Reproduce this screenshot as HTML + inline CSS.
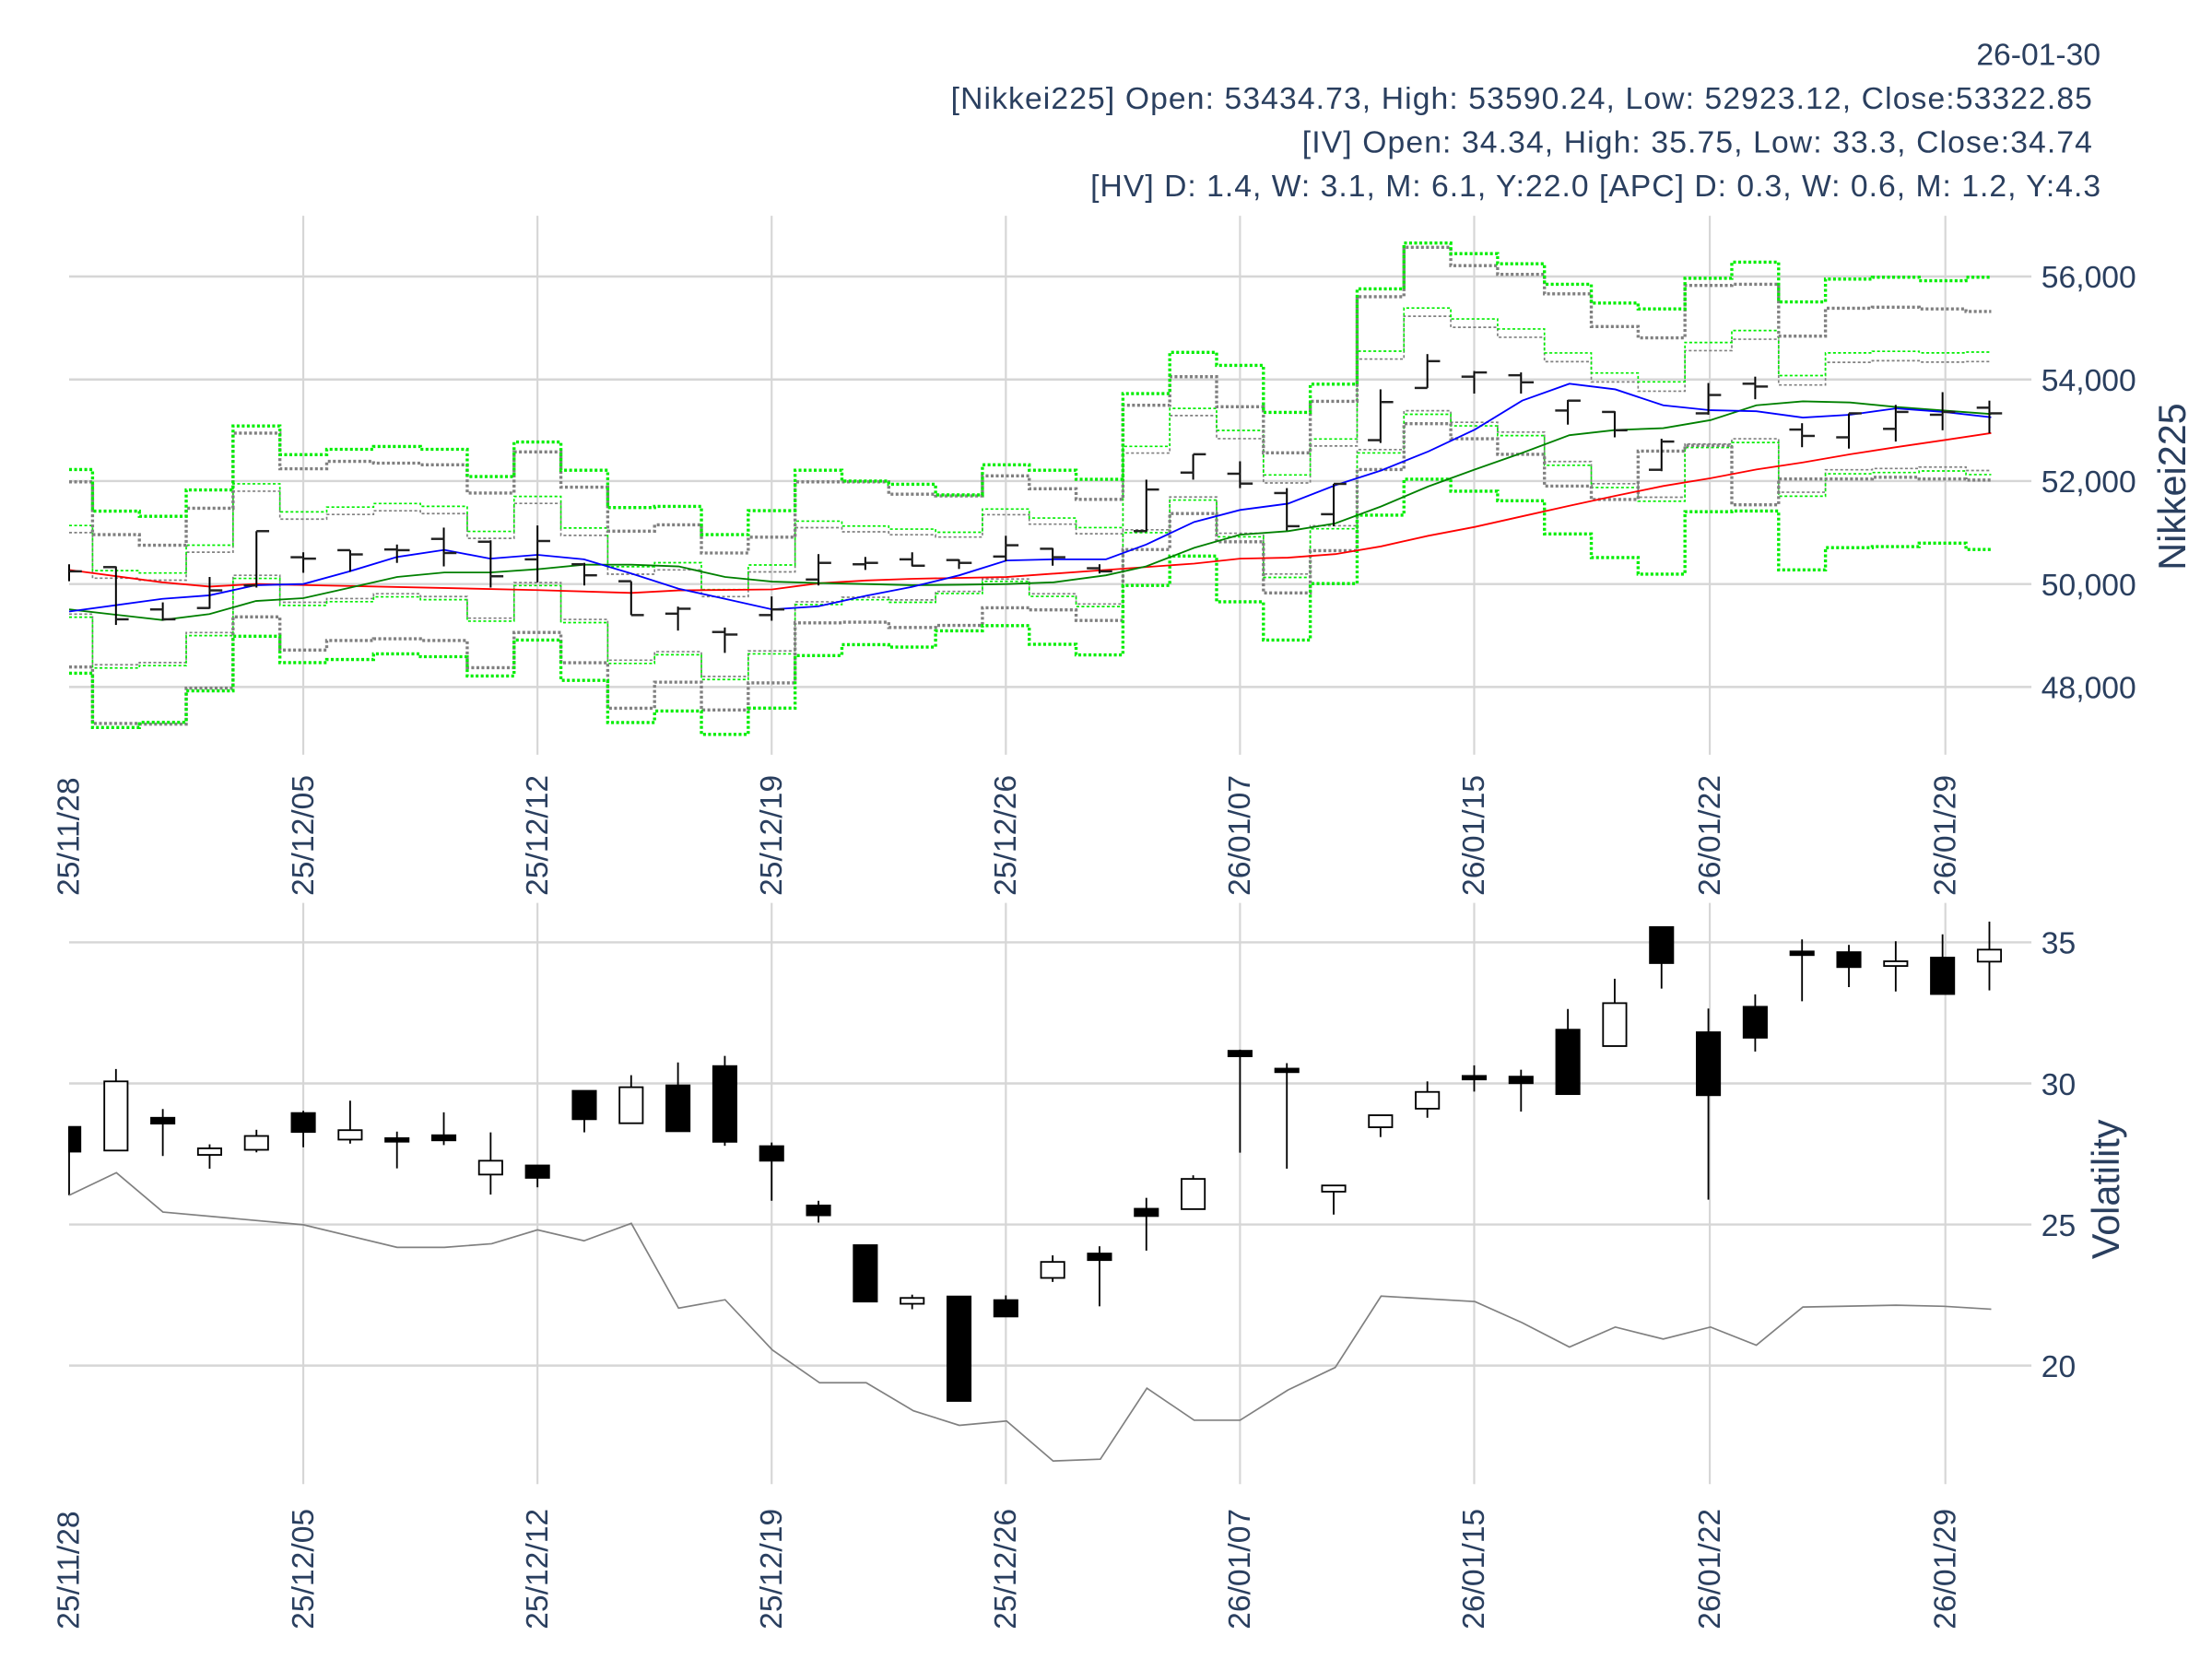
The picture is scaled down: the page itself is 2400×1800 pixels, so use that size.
<!DOCTYPE html>
<html><head><meta charset="utf-8"><style>html,body{margin:0;padding:0;background:#fff}svg{display:block}</style></head>
<body>
<svg id="s" xmlns="http://www.w3.org/2000/svg" width="2400" height="1800" viewBox="0 0 1568 1176" font-family="Liberation Sans, Arial, sans-serif" fill="#2a3f5f">
<rect width="1568" height="1176" fill="#fff"/>
<g id="grid"></g>
<g id="data"></g>
<g font-size="22" text-anchor="end">
<text x="1489" y="46">26-01-30</text>
<text x="1483" y="77" textLength="809">[Nikkei225] Open: 53434.73, High: 53590.24, Low: 52923.12, Close:53322.85</text>
<text x="1483" y="108" textLength="560">[IV] Open: 34.34, High: 35.75, Low: 33.3, Close:34.74</text>
<text x="1489" y="139" textLength="716">[HV] D: 1.4, W: 3.1, M: 6.1, Y:22.0 [APC] D: 0.3, W: 0.6, M: 1.2, Y:4.3</text>
</g>
<g font-size="22">
<text x="1447" y="204">56,000</text>
<text x="1447" y="277">54,000</text>
<text x="1447" y="349">52,000</text>
<text x="1447" y="422">50,000</text>
<text x="1447" y="495">48,000</text>
<text x="1447" y="676">35</text>
<text x="1447" y="776">30</text>
<text x="1447" y="876">25</text>
<text x="1447" y="976">20</text>
</g>
<text font-size="27" text-anchor="middle" transform="translate(1549,345) rotate(-90)">Nikkei225</text>
<text font-size="27" text-anchor="middle" transform="translate(1502,843) rotate(-90)">Volatility</text>
<g id="xl" font-size="22"></g>
</svg>
<script>
var NS="http://www.w3.org/2000/svg";
function el(p,t,a,txt){var e=document.createElementNS(NS,t);for(var k in a)e.setAttribute(k,a[k]);if(txt)e.textContent=txt;p.appendChild(e);return e;}
var G=document.getElementById('grid'),D=document.getElementById('data'),XL=document.getElementById('xl');
var gx=[49,215,381,547,713,879,1045,1212,1379];
var lab=["25/11/28","25/12/05","25/12/12","25/12/19","25/12/26","26/01/07","26/01/15","26/01/22","26/01/29"];
[196,269,341,414,487,668,768,868,968].forEach(function(y){el(G,'line',{x1:49,x2:1440,y1:y,y2:y,stroke:'#d6d6d6','stroke-width':1.6});});
gx.forEach(function(x,i){
 if(i>0){el(G,'line',{x1:x,x2:x,y1:153,y2:535,stroke:'#d6d6d6','stroke-width':1.4});
 el(G,'line',{x1:x,x2:x,y1:640,y2:1052,stroke:'#d6d6d6','stroke-width':1.4});}
 el(XL,'text',{transform:'translate('+(x+7)+',635) rotate(-90)'},lab[i]);
 el(XL,'text',{transform:'translate('+(x+7)+',1155) rotate(-90)'},lab[i]);
});
function X(i){return 49+i*33.2;}
var C=[405,439,439,418.5,376.5,396,393,390,392,408.5,383.5,407.8,436,431.5,449.8,432,399,399,401,399,386.5,395,402,347,322,342.8,373,343,285,256,264,271,290,305,313,280,274,309,293,292,292,293];
var U=[332.8,362.3,366,347.3,302,322.3,318.5,316.5,318.5,337.8,313.3,333.3,359.8,359,379,362,333.3,341,343.3,350.8,329.5,333.3,339.8,279,249.8,259,292.3,272.3,204.8,172.3,179.8,187,201.5,214.8,219,197.3,185.8,214,197.8,196.5,199,196.5];
var GU=[341.6,379,386.5,360.3,307,332.3,327,328.3,329.5,349.5,320.3,345.3,376.5,372,392,380.8,341.6,341.6,350.3,351.5,337.3,346.5,354,287.3,267,288.3,321,284.5,210.3,175.3,188.3,194.5,208.3,231.5,239.5,202.3,201.5,238.3,218.5,217.8,219,220.8];
var GLz=[1290,1450,1452,1350,1148,1242,1215,1210,1215,1292,1192,1278,1407,1333,1412,1335,1165,1163,1178,1172,1122,1128,1158,957,855,935,1080,960,730,600,643,687,777,815,678,662,830,757,757,752,757,760];
var GL=GLz.map(function(z){return z/4+150.3;});
function step(vals,st){
 var d='';for(var i=0;i<vals.length;i++){var a=Math.max(49,X(i)-16.6),b=Math.min(1411.5,X(i)+16.6);
 d+=(i==0?'M'+a+','+vals[i]:'V'+vals[i])+'H'+b;}
 el(D,'path',Object.assign({d:d,fill:'none'},st));
}
var gth={stroke:'#00ee00','stroke-width':2.2,'stroke-dasharray':'2,1.6'},gyth={stroke:'#808080','stroke-width':2.2,'stroke-dasharray':'2,1.6'};
var gtn={stroke:'#00ee00','stroke-width':1.1,'stroke-dasharray':'2,1.6'},gytn={stroke:'#808080','stroke-width':1.1,'stroke-dasharray':'2,1.6'};
var h=C.map(function(c,i){return c-U[i];});
step(C.map(function(c,i){return c-0.38*h[i];}),gytn);
step(C.map(function(c,i){return c+0.42*h[i];}),gytn);
step(C.map(function(c,i){return c-0.45*h[i];}),gtn);
step(C.map(function(c,i){return c+0.45*h[i];}),gtn);
step(GU,gyth);step(GL,gyth);
step(U,gth);step(C.map(function(c,i){return c+h[i];}),gth);
function pl(pts,col,w){el(D,'polyline',{points:pts.map(function(p){return p.join(',')}).join(' '),fill:'none',stroke:col,'stroke-width':w});}
pl([[49,404],[115,412.8],[148.5,415.8],[181.5,414],[314,416.8],[381,418.3],[447.5,420.3],[481,418.5],[547.5,417.8],[580,413.5],[614,411.5],[646.5,410.3],[713.5,409],[784,404],[846.5,399.5],[879,396],[913,395.3],[946.5,392.8],[979,387.3],[1012.5,379.8],[1045.5,373.5],[1079,366],[1112.5,358.5],[1145,351.5],[1179,344.5],[1212.5,339],[1245,332.8],[1278,327.8],[1311.5,322],[1344,317],[1378,312],[1411.5,307]],'#ff0000',1.2);
pl([[49,432],[115,439.5],[148.5,435.3],[181.5,426],[215,424],[248.5,416.5],[281.5,409],[315,405.8],[347.5,405.8],[381,403.5],[414,400.3],[447.5,400.3],[481,401.5],[514,409],[547.5,412.3],[580,413.3],[614,414],[646.5,414.8],[680,414.5],[713.5,414],[746.5,412.8],[784,407.8],[812.5,401.5],[846.5,388.3],[879,379],[913,376.5],[946.5,371],[979,359],[1012.5,344.8],[1045.5,332.8],[1079,321],[1112.5,308.5],[1145,304.8],[1179,303.5],[1212.5,297.8],[1245,287.3],[1278,284.5],[1311.5,285.3],[1344,288.5],[1378,291],[1411.5,293.5]],'#008000',1.2);
pl([[49,433.5],[115,424.5],[148.5,422],[181.5,414.8],[215,414],[248.5,404.8],[281.5,394.8],[315,389.8],[347.5,396],[381,393.3],[414,396.5],[447.5,406.5],[481,417.3],[514,424.5],[547.5,432],[580,429.8],[614,422.3],[646.5,416],[680,407.8],[713.5,397.3],[746.5,396.5],[784,396.5],[812.5,386],[846.5,370],[879,361.5],[913,357],[946.5,344],[979,333.5],[1012.5,320],[1045.5,304.5],[1079,284],[1112.5,272],[1145,276],[1179,287.3],[1212.5,290.8],[1245,291.5],[1278,296],[1311.5,294],[1344,289.5],[1378,292],[1411.5,295.8]],'#0000ff',1.2);
var O=[[400,412,405,405],[401.5,443,402,439],[427,440,432,439],[409,431.5,431,418.5],[376.5,416.5,415,376.5],[391.5,406,395,396],[390,405.3,390,393],[386,399,389.5,390],[374,401.5,382,392],[383,416.5,384,408.5],[372.5,412.8,396.5,383.5],[399,415,400,407.8],[412,436,412,436],[430,447,435,431.5],[444.8,462.8,448,449.8],[422.8,440,436,432],[392.8,415,410.8,399],[394.8,404,400,399],[391.5,401.5,396.5,401],[396.5,403.3,397,399],[379.8,397.8,394.5,386.5],[388.5,401,389,395],[400,406.5,402.8,405],[340,377,376.5,347],[322,340,335,322],[327,346,335.8,342.8],[346,376,349.5,373],[343,373,364.5,343],[276,314,312,285],[251,275,275,256],[263,279,267,264],[264,279,266,271],[283.5,301,291,284],[291.5,310,292,305],[311,334,333,313],[271.5,294,293,280],[267,283,272,274],[300,317,304.5,309],[293,318,310,293],[287,313,304,292],[278,305,294,292],[284,307,289,293]];
O.forEach(function(o,i){var x=X(i);
 el(D,'line',{x1:x,x2:x,y1:o[0],y2:o[1],stroke:'#000','stroke-width':1.3});
 if(i>0)el(D,'line',{x1:x-9,x2:x,y1:o[2],y2:o[2],stroke:'#222','stroke-width':1.6});
 el(D,'line',{x1:x,x2:x+9,y1:o[3],y2:o[3],stroke:'#222','stroke-width':1.6});});
function VY(z){return z*0.258+640.9;}
var K=[[612,680,612,800,1],[487,677,453,677,0],[587,603,563,692,1],[671,689,660,727,0],[637,675,620,682,0],[574,626,568,668,1],[621,647,540,658,0],[643,650,625,726,1],[635,649,572,662,1],[705,743,627,798,0],[718,752,718,778,1],[513,591,513,627,1],[503,602,470,602,0],[498,624,435,624,1],[445,653,417,664,1],[665,705,655,815,1],[828,855,815,875,1],[937,1092,937,1092,1],[1082,1098,1073,1113,0],[1078,1365,1078,1365,1],[1088,1133,1075,1133,1],[983,1027,965,1038,0],[960,978,940,1105,1],[837,857,807,952,1],[755,838,745,838,0],[403,418,400,683,1],[452,458,437,727,1],[773,790,773,853,0],[580,613,580,640,0],[516,562,487,587,0],[472,480,443,515,1],[474,492,455,570,1],[345,522,288,522,1],[272,390,205,390,0],[63,162,63,232,1],[352,525,287,812,1],[282,367,248,405,1],[130,140,97,267,1],[132,173,112,228,1],[157,170,102,240,0],[147,247,83,247,1],[125,158,48,237,0]];
K.forEach(function(k,i){var x=X(i),w=i==0?8:16.5,x0=i==0?49:x-8.25;
 el(D,'line',{x1:x,x2:x,y1:VY(k[2]),y2:VY(k[3]),stroke:'#000','stroke-width':1.2});
 var t=VY(k[0]),b=VY(k[1]);if(b-t<2.5)b=t+2.5;
 el(D,'rect',{x:x0,y:t,width:w,height:b-t,fill:k[4]?'#000':'#fff',stroke:'#000','stroke-width':1.2});});
var HV=[[49,800],[82.5,738],[115.5,846],[215,881],[281.5,943],[315,943],[348.5,933],[381,895],[414,925],[447.5,877],[481,1110],[514,1087],[547.5,1225],[581,1315],[614,1315],[647.5,1392],[680,1432],[713.5,1420],[746.5,1530],[780,1525],[813,1330],[846.5,1418],[879,1418],[913,1335],[946.5,1273],[979,1077],[1045.5,1092],[1079,1150],[1112.5,1217],[1145,1162],[1179,1195],[1212.5,1162],[1245,1212],[1278,1107],[1344,1102],[1378,1105],[1411.5,1113]];
pl(HV.map(function(p){return [p[0],VY(p[1])];}),'#808080',1.1);
</script>
</body></html>
